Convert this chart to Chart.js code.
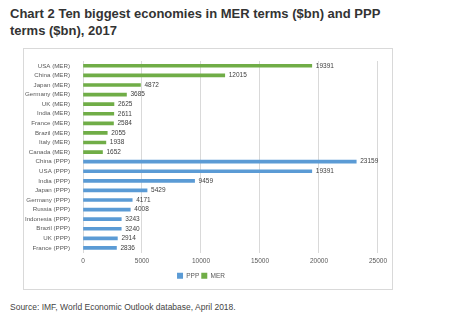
<!DOCTYPE html>
<html>
<head>
<meta charset="utf-8">
<script src="https://cdn.jsdelivr.net/npm/chart.js@4/dist/chart.umd.min.js"></script>
<style>
  body { margin: 0; background: #fff; font-family: "Liberation Sans", Arial, sans-serif; }
  #title { position: absolute; left: 10px; top: 5px; width: 400px; font-size: 13px; font-weight: bold; color: #333; line-height: 17px; }
  #box { position: absolute; left: 23px; top: 48px; width: 368px; height: 240px; border: 1px solid #d9d9d9; }
  #source { position: absolute; left: 10px; top: 302px; font-size: 8.5px; color: #444; }
</style>
</head>
<body>
<div id="title">Chart 2 Ten biggest economies in MER terms ($bn) and PPP terms ($bn), 2017</div>
<div id="box"><canvas id="myChart" width="368" height="240"></canvas></div>
<div id="source">Source: IMF, World Economic Outlook database, April 2018.</div>
<script>
//categories top to bottom
const categories = ['USA (MER)', 'China (MER)', 'Japan (MER)', 'Germany (MER)', 'UK (MER)', 'India (MER)',
	'France (MER)', 'Brazil (MER)', 'Italy (MER)', 'Canada (MER)',
	'China (PPP)', 'USA (PPP)', 'India (PPP)', 'Japan (PPP)', 'Germany (PPP)', 'Russia (PPP)',
	'Indonesia (PPP)', 'Brazil (PPP)', 'UK (PPP)', 'France (PPP)'];
//MER values, null for PPP rows
const merValues = [19391, 12015, 4872, 3685, 2625, 2611, 2584, 2055, 1938, 1652,
	null, null, null, null, null, null, null, null, null, null];
//PPP values, null for MER rows
const pppValues = [null, null, null, null, null, null, null, null, null, null,
	23159, 19391, 9459, 5429, 4171, 4008, 3243, 3240, 2914, 2836];
const xTicks = [0, 5000, 10000, 15000, 20000, 25000];

//write value to the right of each bar
const valueLabels = {
	id: 'valueLabels',
	afterDatasetsDraw(chart) {
		const ctx = chart.ctx;
		ctx.save();
		ctx.font = '6.5px "Liberation Sans", Arial, sans-serif';
		ctx.fillStyle = '#404040';
		ctx.textBaseline = 'middle';
		chart.data.datasets.forEach(function(ds, i) {
			chart.getDatasetMeta(i).data.forEach(function(bar, j) {
				if (ds.data[j] == null) return;
				ctx.fillText(String(ds.data[j]), bar.x + 4, bar.y);
			});
		});
		ctx.restore();
	}
};

var ctx = document.getElementById('myChart').getContext('2d');
var myChart = new Chart(ctx, {
	type: 'bar',
	data: {
		labels: categories,
		datasets: [{
			label: 'PPP',
			data: pppValues,
			backgroundColor: '#5b9bd5',
			barThickness: 3,
			stack: 's'
		}, {
			label: 'MER',
			data: merValues,
			backgroundColor: '#70ad47',
			barThickness: 3,
			stack: 's'
		}]
	},
	options: {
		indexAxis: 'y',
		responsive: false,
		animation: false,
		layout: { padding: { top: 12, right: 14, bottom: 0 } },
		scales: {
			x: {
				min: 0,
				max: 25000,
				afterBuildTicks: function(scale) { scale.ticks = xTicks.map(v => ({ value: v })); },
				grid: { color: '#d9d9d9', drawTicks: false },
				border: { display: false },
				ticks: { font: { size: 6.5 }, color: '#595959', padding: 5, callback: v => String(v) }
			},
			y: {
				stacked: true,
				grid: { display: false },
				border: { display: false },
				ticks: { font: { size: 6.2 }, color: '#595959', padding: 5, autoSkip: false },
				afterFit: function(scale) { scale.width = 59; }
			}
		},
		plugins: {
			legend: {
				position: 'bottom',
				labels: { boxWidth: 6, boxHeight: 6, font: { size: 6.5 }, color: '#595959', padding: 2 }
			},
			tooltip: { enabled: false }
		}
	},
	plugins: [valueLabels]
});
</script>
</body>
</html>
